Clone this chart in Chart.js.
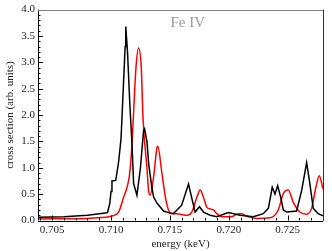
<!DOCTYPE html>
<html>
<head>
<meta charset="utf-8">
<script src="https://cdn.jsdelivr.net/npm/chart.js@4/dist/chart.umd.min.js"></script>
<style>
  html, body { margin: 0; padding: 0; background: #fff; }
</style>
</head>
<body>
<canvas id="spectrum" width="332" height="251"></canvas>
<script>
// black curve (energy in keV, cross section)
var blackEnergy = [0.7038, 0.7060, 0.7080, 0.7095, 0.7097, 0.7099, 0.7100, 0.71008, 0.7104, 0.71064,
  0.71085, 0.7110, 0.7112, 0.71125, 0.7114, 0.7116, 0.71178, 0.71192, 0.7122, 0.7125,
  0.71276, 0.71285, 0.71305, 0.7132, 0.71347, 0.71361, 0.7139, 0.71446, 0.7150, 0.7153,
  0.7160, 0.71658, 0.71714, 0.71751, 0.71785, 0.71842, 0.71898, 0.71997, 0.72096, 0.72208,
  0.72293, 0.72336, 0.72369, 0.72392, 0.72415, 0.72441, 0.72463, 0.72492, 0.72576, 0.72619,
  0.72661, 0.72689, 0.72717, 0.72759, 0.7280];
var blackCross = [0.06, 0.07, 0.10, 0.14, 0.15, 0.33, 0.55, 0.75, 0.76, 1.10,
  1.55, 2.30, 3.30, 3.68, 3.20, 2.20, 1.45, 0.70, 0.48, 1.00,
  1.70, 1.74, 1.50, 1.07, 0.63, 0.45, 0.33, 0.18, 0.14, 0.13,
  0.29, 0.69, 0.16, 0.26, 0.16, 0.10, 0.07, 0.15, 0.10, 0.07,
  0.13, 0.23, 0.63, 0.50, 0.66, 0.44, 0.20, 0.16, 0.18, 0.57,
  1.10, 0.69, 0.23, 0.13, 0.09];

// red curve
var redEnergy = [0.7038, 0.7080, 0.7095, 0.7100, 0.71064, 0.71107, 0.71136, 0.71158, 0.71178, 0.71192,
  0.71212, 0.71234, 0.71257, 0.71271, 0.71305, 0.7132, 0.71333, 0.71361, 0.7139, 0.71397,
  0.71432, 0.71465, 0.7150, 0.7153, 0.71587, 0.71644, 0.71686, 0.71729, 0.71757, 0.71785,
  0.71814, 0.71842, 0.7187, 0.71898, 0.71941, 0.72025, 0.72081, 0.7211, 0.72153, 0.72237,
  0.7235, 0.7242, 0.72463, 0.72505, 0.72547, 0.72604, 0.72661, 0.72703, 0.7274, 0.72768,
  0.7280];
var redCross = [0.03, 0.04, 0.06, 0.08, 0.16, 0.44, 0.63, 0.88, 1.44, 2.06,
  2.90, 3.27, 2.90, 1.97, 1.00, 0.55, 0.48, 0.82, 1.38, 1.41,
  0.90, 0.40, 0.15, 0.13, 0.12, 0.10, 0.16, 0.44, 0.58, 0.44,
  0.25, 0.22, 0.20, 0.13, 0.07, 0.07, 0.13, 0.13, 0.08, 0.04,
  0.05, 0.20, 0.51, 0.58, 0.35, 0.16, 0.12, 0.23, 0.63, 0.85,
  0.60];

var xTicks = [0.705, 0.710, 0.715, 0.720, 0.725];
var yTicks = [0.0, 0.5, 1.0, 1.5, 2.0, 2.5, 3.0, 3.5, 4.0];
var ionLabel = "Fe IV";

var serif = "'Liberation Serif', 'DejaVu Serif', serif";

function toPoints(xs, ys) {
  return xs.map(function (x, i) { return { x: x, y: ys[i] }; });
}

// frame, inward ticks and the ion label
var framePlugin = {
  id: "frame",
  afterDraw: function (chart) {
    var ctx = chart.ctx;
    var a = chart.chartArea;
    var xs = chart.scales.x;
    var ys = chart.scales.y;
    ctx.save();
    ctx.lineWidth = 1;

    ctx.strokeStyle = "#000";
    ctx.beginPath();
    // major / minor ticks on x
    for (var e = 0.704; e <= 0.7281; e += 0.001) {
      var px = Math.round(xs.getPixelForValue(e)) + 0.5;
      var isMajor = xTicks.some(function (t) { return Math.abs(t - e) < 1e-6; });
      ctx.moveTo(px, a.bottom);
      ctx.lineTo(px, a.bottom - (isMajor ? 5 : 2.5));
    }
    // major / minor ticks on y
    for (var v = 0; v <= 4.0001; v += 0.1) {
      var py = Math.round(ys.getPixelForValue(v)) + 0.5;
      var major = Math.abs(v * 2 - Math.round(v * 2)) < 1e-6;
      ctx.moveTo(a.left, py);
      ctx.lineTo(a.left + (major ? 5 : 2.5), py);
    }
    ctx.stroke();

    // left and bottom axes
    ctx.beginPath();
    ctx.moveTo(Math.round(a.left) + 0.5, a.top);
    ctx.lineTo(Math.round(a.left) + 0.5, a.bottom);
    ctx.moveTo(a.left, Math.round(a.bottom) + 0.5);
    ctx.lineTo(a.right, Math.round(a.bottom) + 0.5);
    ctx.stroke();

    ctx.strokeStyle = "#333";
    ctx.beginPath();
    ctx.moveTo(Math.round(a.right) + 0.5, a.top);
    ctx.lineTo(Math.round(a.right) + 0.5, a.bottom);
    ctx.stroke();

    ctx.strokeStyle = "#808080";
    ctx.beginPath();
    ctx.moveTo(a.left, Math.round(a.top) + 0.5);
    ctx.lineTo(a.right, Math.round(a.top) + 0.5);
    ctx.stroke();

    ctx.fillStyle = "#999";
    ctx.font = "15px " + serif;
    ctx.textBaseline = "alphabetic";
    ctx.fillText(ionLabel, xs.getPixelForValue(0.71505), 26.5);
    ctx.restore();
  }
};

new Chart(document.getElementById("spectrum"), {
  type: "line",
  data: {
    datasets: [
      {
        label: "black",
        data: toPoints(blackEnergy, blackCross),
        borderColor: "#000000",
        borderWidth: 1.5,
        pointRadius: 0,
        tension: 0,
        fill: false,
      },
      {
        label: "red",
        data: toPoints(redEnergy, redCross),
        borderColor: "#ff0000",
        borderWidth: 1.5,
        pointRadius: 0,
        cubicInterpolationMode: "monotone",
        fill: false,
      },
    ],
  },
  options: {
    responsive: false,
    animation: false,
    layout: { padding: { top: 6, right: 9, left: 0, bottom: 0 } },
    plugins: {
      legend: { display: false },
      tooltip: { enabled: false },
    },
    scales: {
      x: {
        type: "linear",
        min: 0.7038,
        max: 0.728,
        afterBuildTicks: function (s) {
          s.ticks = xTicks.map(function (v) { return { value: v }; });
        },
        afterFit: function (s) { s.height = 30.5; },
        grid: { display: false, drawTicks: false },
        border: { display: false },
        ticks: {
          autoSkip: false,
          maxRotation: 0,
          padding: 3,
          color: "#222",
          font: { family: serif, size: 11 },
          callback: function (v) { return Number(v).toFixed(3); },
        },
        title: {
          display: true,
          text: "energy (keV)",
          color: "#222",
          font: { family: serif, size: 11 },
          padding: { top: 0, bottom: 0 },
        },
      },
      y: {
        type: "linear",
        min: 0,
        max: 4,
        afterBuildTicks: function (s) {
          s.ticks = yTicks.map(function (v) { return { value: v }; });
        },
        afterFit: function (s) { s.width = 38; },
        grid: { display: false, drawTicks: false },
        border: { display: false },
        ticks: {
          padding: 3,
          color: "#222",
          font: { family: serif, size: 11 },
          callback: function (v) { return Number(v).toFixed(1); },
        },
        title: {
          display: true,
          text: "cross section (arb. units)",
          color: "#222",
          font: { family: serif, size: 11 },
          padding: { top: 4, bottom: 0 },
        },
      },
    },
  },
  plugins: [framePlugin],
});
</script>
</body>
</html>
